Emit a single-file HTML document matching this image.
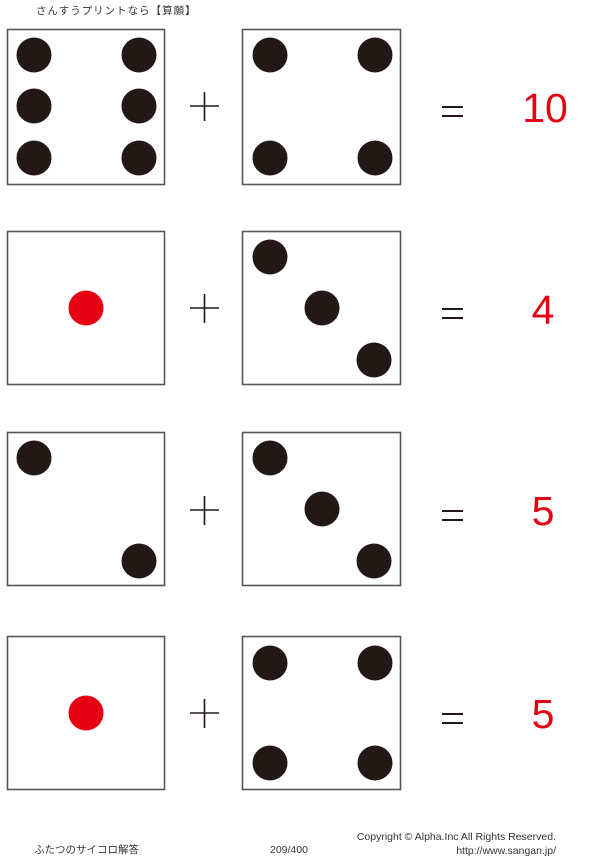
<!DOCTYPE html>
<html><head><meta charset="utf-8"><style>
html,body{margin:0;padding:0;background:#fff;width:600px;height:859px;overflow:hidden}
svg{display:block}
.j{font-family:"Liberation Sans","Noto Sans CJK JP",sans-serif;fill:#333}
.n{font-family:"Liberation Sans",sans-serif;fill:#e60012;font-size:41px;text-anchor:middle}
</style></head><body>
<svg width="600" height="859" viewBox="0 0 600 859" xmlns="http://www.w3.org/2000/svg">
<text x="36" y="14" class="j" font-size="10.5" letter-spacing="1">さんすうプリントなら【算願】</text>
<g stroke="#5a5553" stroke-width="1.6" fill="none">
<rect x="7.5" y="29.5" width="157" height="155"/><rect x="242.5" y="29.5" width="158" height="155"/>
<rect x="7.5" y="231.5" width="157" height="153"/><rect x="242.5" y="231.5" width="158" height="153"/>
<rect x="7.5" y="432.5" width="157" height="153"/><rect x="242.5" y="432.5" width="158" height="153"/>
<rect x="7.5" y="636.5" width="157" height="153"/><rect x="242.5" y="636.5" width="158" height="153"/>
</g>
<g fill="#231815">
<circle cx="34" cy="55" r="17.5"/><circle cx="139" cy="55" r="17.5"/>
<circle cx="34" cy="106" r="17.5"/><circle cx="139" cy="106" r="17.5"/>
<circle cx="34" cy="158" r="17.5"/><circle cx="139" cy="158" r="17.5"/>
<circle cx="270" cy="55" r="17.5"/><circle cx="375" cy="55" r="17.5"/>
<circle cx="270" cy="158" r="17.5"/><circle cx="375" cy="158" r="17.5"/>
<circle cx="270" cy="257" r="17.5"/><circle cx="322" cy="308" r="17.5"/><circle cx="374" cy="360" r="17.5"/>
<circle cx="34" cy="458" r="17.5"/><circle cx="139" cy="561" r="17.5"/>
<circle cx="270" cy="458" r="17.5"/><circle cx="322" cy="509" r="17.5"/><circle cx="374" cy="561" r="17.5"/>
<circle cx="270" cy="663" r="17.5"/><circle cx="375" cy="663" r="17.5"/>
<circle cx="270" cy="763" r="17.5"/><circle cx="375" cy="763" r="17.5"/>
</g>
<g fill="#e60012"><circle cx="86" cy="308" r="17.5"/><circle cx="86" cy="713" r="17.5"/></g>
<g stroke="#231815" stroke-width="1.6">
<path d="M190 106h29M204.5 92v29"/><path d="M190 308h29M204.5 294v29"/>
<path d="M190 510h29M204.5 496v29"/><path d="M190 713h29M204.5 699v29"/>
</g>
<g stroke="#231815" stroke-width="2">
<path d="M442 107h21M442 116h21"/><path d="M442 309h21M442 318h21"/>
<path d="M442 511h21M442 520h21"/><path d="M442 714h21M442 723h21"/>
</g>
<text x="545" y="122" class="n">10</text>
<text x="543" y="324" class="n">4</text>
<text x="543" y="525" class="n">5</text>
<text x="543" y="728" class="n">5</text>
<text x="34" y="853" class="j" font-size="10.5">ふたつのサイコロ解答</text>
<text x="270" y="853" class="j" font-size="10.5">209/400</text>
<text x="556" y="840" class="j" font-size="10.5" text-anchor="end">Copyright ©  Alpha.Inc All Rights Reserved.</text>
<text x="556" y="854" class="j" font-size="10.5" text-anchor="end">http://www.sangan.jp/</text>
</svg>
</body></html>
